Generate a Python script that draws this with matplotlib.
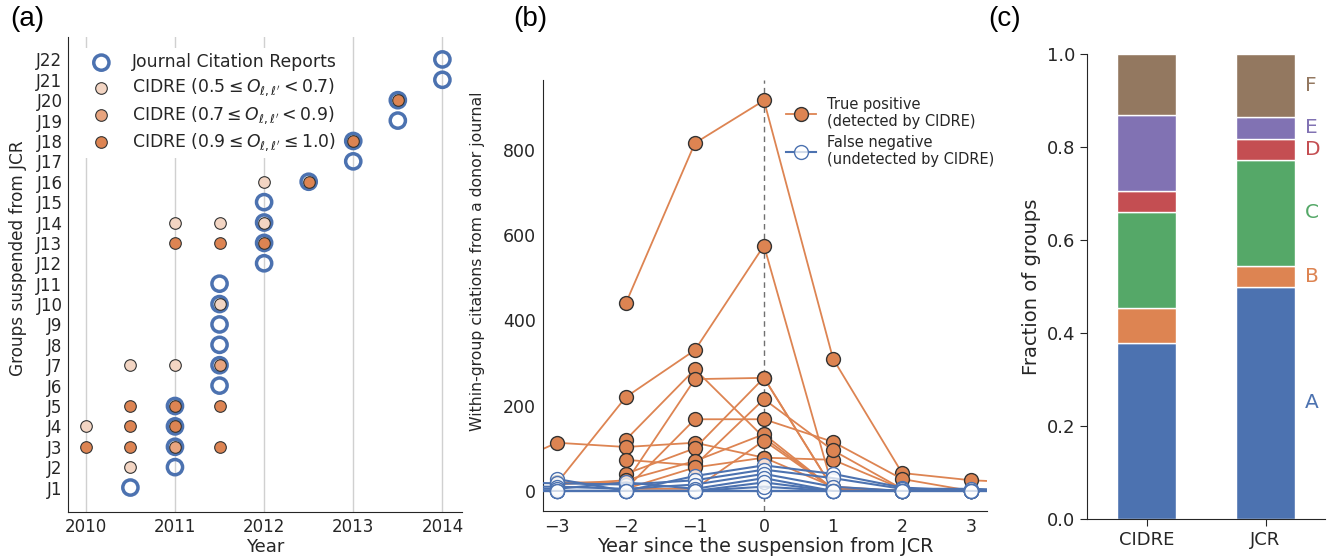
import numpy as np
from matplotlib import pyplot as plt

nan = np.nan

# ---- panel (a): suspension years ----
groups = ["J%d" % i for i in range(1, 23)]
jcr_year = [2010.5, 2011, 2011, 2011, 2011,
            2011.5, 2011.5, 2011.5, 2011.5, 2011.5, 2011.5,
            2012, 2012, 2012, 2012, 2012.5,
            2013, 2013, 2013.5, 2013.5, 2014, 2014]

# CIDRE detections: group index (J1 = 1), year, overlap level (0 low, 1 mid, 2 high)
cidre_group = [2, 3, 3, 3, 3, 4, 4, 4, 5, 5, 5, 7, 7, 7, 10,
               13, 13, 13, 14, 14, 14, 16, 16, 18, 20]
cidre_year = [2010.5, 2010, 2010.5, 2011, 2011.5, 2010, 2010.5, 2011,
              2010.5, 2011, 2011.5, 2010.5, 2011, 2011.5, 2011.5,
              2011, 2011.5, 2012, 2011, 2011.5, 2012, 2012, 2012.5, 2013, 2013.5]
cidre_level = [0, 2, 2, 1, 2, 0, 2, 2, 2, 2, 2, 0, 0, 1, 0,
               2, 2, 2, 0, 0, 0, 0, 2, 2, 2]
level_labels = [r"CIDRE ($0.5 \leq O_{\ell,\ell'} < 0.7$)",
                r"CIDRE ($0.7 \leq O_{\ell,\ell'} < 0.9$)",
                r"CIDRE ($0.9 \leq O_{\ell,\ell'} \leq 1.0$)"]

# ---- panel (b): within-group citations vs year since suspension ----
rel_years = [-4, -3, -2, -1, 0, 1, 2, 3, 4]
true_pos = [
    [nan, nan, 440, 815, 915, 310, 42, 25, 18],
    [nan, 18, 220, 330, 575, 5, 0, nan, nan],
    [nan, nan, 120, 285, 125, 5, 0, 0, nan],
    [nan, 20, 20, 262, 265, 5, 0, 0, nan],
    [40, 113, 103, 113, 78, 73, 5, 0, 0],
    [nan, nan, 5, 168, 168, 115, 28, 0, nan],
    [nan, nan, 40, 100, 265, 5, 0, nan, nan],
    [nan, nan, 73, 60, 215, 95, 5, 0, nan],
    [nan, 15, 25, 70, 133, 5, 0, nan, nan],
    [nan, nan, 5, 5, 118, 5, 0, nan, nan],
    [nan, nan, 5, 55, 78, 10, 0, nan, nan],
]
false_neg = [
    [0, 0, 0, 0, 0, 0, 0, 0, 0],
    [0, 0, 0, 0, 0, 0, 0, 0, 0],
    [0, 0, 0, 0, 0, 0, 0, 0, 0],
    [0, 0, 0, 0, 0, 0, 0, 0, 0],
    [nan, 28, 0, 35, 60, 40, 8, 0, 0],
    [20, 18, 15, 25, 50, 30, 5, 5, 0],
    [10, 10, 5, 15, 40, 10, 0, 0, 0],
    [5, 5, 20, 5, 30, 0, 0, 0, 0],
    [0, 0, 0, 0, 20, 0, 0, 0, 0],
    [0, 0, 0, 0, 10, 0, 0, 0, 0],
]

# ---- panel (c): fraction of groups ----
methods = ["CIDRE", "JCR"]
categories = ["A", "B", "C", "D", "E", "F"]
frac_cidre = [0.378, 0.075, 0.208, 0.044, 0.163, 0.132]
frac_jcr = [0.500, 0.045, 0.228, 0.045, 0.046, 0.136]

blue = "#4c72b0"
orange = "#dd8452"
cat_colors = ["#4c72b0", "#dd8452", "#55a868", "#c44e52", "#8172b3", "#937860"]
level_colors = ["#f3d5c3", "#e8a47e", "#dd8452"]
textc = "#262626"

plt.rcParams["font.family"] = "DejaVu Sans"
plt.rcParams["text.color"] = textc
plt.rcParams["axes.labelcolor"] = textc
plt.rcParams["xtick.color"] = textc
plt.rcParams["ytick.color"] = textc
plt.rcParams["axes.edgecolor"] = textc

fig = plt.figure(figsize=(13.3, 5.6), dpi=100)
W, H = 1330, 560


def px_axes(l, t, r, b):
    return fig.add_axes([l / W, 1 - b / H, (r - l) / W, (b - t) / H])


def clean(ax):
    ax.spines["top"].set_visible(False)
    ax.spines["right"].set_visible(False)


# (a)
ax = px_axes(68, 37, 462, 512)
clean(ax)
ypos = np.arange(len(groups))
for x in [2010, 2011, 2012, 2013, 2014]:
    ax.axvline(x, color="#d0d0d0", lw=1, zorder=0)
ax.scatter(jcr_year, ypos, s=120, facecolors="none", edgecolors=blue, linewidths=2.5,
           label="Journal Citation Reports", zorder=2)
cg = np.array(cidre_group) - 1
cy = np.array(cidre_year)
cl = np.array(cidre_level)
for lev in range(3):
    m = cl == lev
    ax.scatter(cy[m], cg[m], s=70, c=level_colors[lev], edgecolors="#333333", linewidths=0.8,
               label=level_labels[lev], zorder=3)
ax.set_yticks(ypos)
ax.set_yticklabels(groups)
ax.set_xticks([2010, 2011, 2012, 2013, 2014])
ax.set_xlim(2009.8, 2014.22)
ax.set_ylim(-1.2, 22.1)
ax.tick_params(labelsize=12, length=0, pad=4)
ax.set_xlabel("Year", fontsize=13, labelpad=2)
ax.set_ylabel("Groups suspended from JCR", fontsize=12.2)
ax.yaxis.set_label_coords(-0.104, 0.535)
ax.legend(loc="upper left", fontsize=12.4, frameon=True, framealpha=1, edgecolor="none",
          fancybox=False, handletextpad=0.8, labelspacing=0.33, borderpad=0.3,
          bbox_to_anchor=(0.006, 0.995))

# (b)
ax = px_axes(543, 80, 987, 511)
clean(ax)
ax.axvline(0, color="#707070", lw=1, ls=(0, (4, 3)), zorder=0)
for k, s in enumerate(true_pos):
    ax.plot(rel_years, s, color=orange, lw=1.3, marker="o", ms=10, mfc=orange, mec="#333333",
            mew=1.0, zorder=2, label="True positive\n(detected by CIDRE)" if k == 0 else None)
for k, s in enumerate(false_neg):
    ax.plot(rel_years, s, color=blue, lw=1.5, marker="o", ms=10, mfc=(1, 1, 1, 0.75), mec=blue,
            mew=1.0, zorder=3, label="False negative\n(undetected by CIDRE)" if k == 0 else None)
ax.set_xlim(-3.2, 3.23)
ax.set_ylim(-47, 963)
ax.set_xticks(range(-3, 4))
ax.set_yticks([0, 200, 400, 600, 800])
ax.tick_params(labelsize=12.5, length=0, pad=5)
ax.set_xlabel("Year since the suspension from JCR", fontsize=13.8, labelpad=1)
ax.set_ylabel("Within-group citations from a donor journal", fontsize=11.3)
ax.yaxis.set_label_coords(-0.13, 0.58)
ax.legend(loc="upper left", bbox_to_anchor=(0.535, 0.975), borderaxespad=0, frameon=False,
          fontsize=10.5, handletextpad=0.8, labelspacing=0.4)

# (c)
ax = px_axes(1087, 54, 1325, 519)
clean(ax)
xpos = np.arange(len(methods))
bottoms = np.zeros(len(methods))
for i, cat in enumerate(categories):
    vals = np.array([frac_cidre[i], frac_jcr[i]])
    ax.bar(xpos, vals, width=0.49, bottom=bottoms, color=cat_colors[i], edgecolor="white", lw=1)
    ax.text(1.33, bottoms[1] + vals[1] / 2, cat, color=cat_colors[i], fontsize=14.5,
            ha="left", va="center")
    bottoms += vals
ax.set_xlim(-0.5, 1.5)
ax.set_ylim(0, 1.0)
ax.set_xticks(xpos)
ax.set_xticklabels(methods)
ax.set_yticks([0, 0.2, 0.4, 0.6, 0.8, 1.0])
ax.set_yticklabels(["0.0", "0.2", "0.4", "0.6", "0.8", "1.0"])
ax.tick_params(labelsize=13, length=5)
ax.set_ylabel("Fraction of groups", fontsize=14, labelpad=4)

for lab, x in [("(a)", 10), ("(b)", 513), ("(c)", 988)]:
    fig.text(x / W, 1 - 6 / H, lab, fontsize=20, family="Liberation Sans", color="black",
             ha="left", va="top")

fig.savefig("out.png", dpi=100)
